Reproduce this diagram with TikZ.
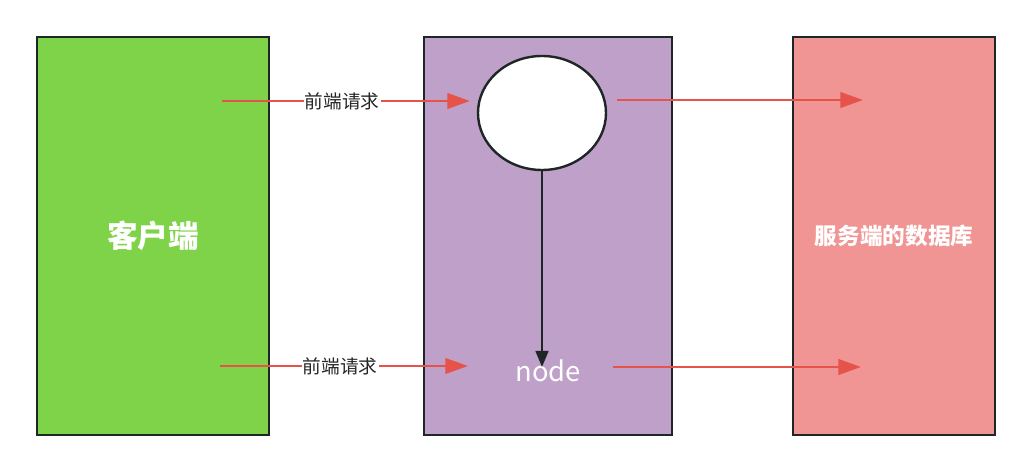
\documentclass[tikz,border=0pt]{standalone}
\usepackage{fontspec}
\setmainfont{Noto Sans CJK SC}
\usepackage{tikz}
\usetikzlibrary{arrows.meta,positioning,calc,shapes.geometric}
\definecolor{clientgreen}{HTML}{7ED348}
\definecolor{proxypurple}{HTML}{BFA0C9}
\definecolor{serverpink}{HTML}{F09494}
\definecolor{reqred}{HTML}{E5534B}
\definecolor{edgedark}{HTML}{1E2626}

\begin{document}
\begin{tikzpicture}[
    x=0.75pt, y=-0.75pt,
    panel/.style={draw=edgedark, line width=2pt, minimum height=298.5pt, inner sep=0pt,
                  text=white, font=\bfseries},
    req/.style={-{Triangle[length=17pt, width=11.5pt]}, line width=2.2pt, draw=reqred},
    down/.style={-{Triangle[length=12pt, width=9.5pt]}, line width=1.8pt, draw=edgedark},
    lbl/.style={fill=white, inner sep=1pt, font=\fontsize{14pt}{16pt}\selectfont, text=black!85},
]
\useasboundingbox (0,0) rectangle (1032,473);

% Client
\node[panel, fill=clientgreen, minimum width=174pt, font=\bfseries\fontsize{23pt}{26pt}\selectfont] (client) at (153,236) {客户端};

% Proxy
\node[panel, fill=proxypurple, minimum width=186pt] (proxy) at (548,236) {};

% Server database
\node[panel, fill=serverpink, minimum width=151.5pt, font=\bfseries\fontsize{17pt}{20pt}\selectfont] (server) at (894,236) {服务端的数据库};

% Circle and node label
\node[ellipse, draw=edgedark, line width=1.8pt, fill=white, minimum width=96pt, minimum height=85.5pt] (circ) at (542,113) {};
\node[text=white, inner sep=0pt, font=\fontsize{20.5pt}{23pt}\selectfont] (nodelbl) at (548,371) {node};

% Free ends of the request arrows
\coordinate (c1) at (222,101);
\coordinate (p1) at (470,101);
\coordinate (q1) at (617,100);
\coordinate (s1) at (863,100);
\coordinate (c2) at (220,366);
\coordinate (p2) at (468,366);
\coordinate (q2) at (613,367);
\coordinate (s2) at (861,367);
\coordinate (nd) at (542,367);

% Requests
\draw[req] (c1) -- node[lbl, pos=0.485] {前端请求} (p1);
\draw[req] (q1) -- (s1);
\draw[req] (c2) -- node[lbl, pos=0.485] {前端请求} (p2);
\draw[req] (q2) -- (s2);

% Circle down to node
\draw[down] (circ.south) -- (nd);

\end{tikzpicture}
\end{document}
